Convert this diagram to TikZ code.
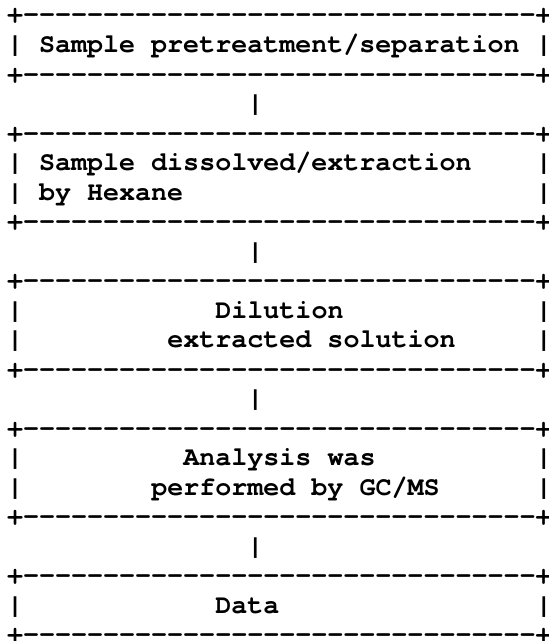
\documentclass[tikz,border=0pt]{standalone}
\usepackage{fontspec}
\setmonofont{TeX Gyre Cursor}
\tikzset{
  asc/.style={anchor=base west, inner sep=0pt, outer sep=0pt,
    font=\ttfamily\bfseries\fontsize{26.7}{30}\selectfont}
}
\newcommand\cw{16.03}
\newcommand\lx{7}
\newcommand\ly{618}
\newcommand\ls{29.52}
\newcommand\bordertext{+--------------------------------+}
\begin{document}
\begin{tikzpicture}[x=1pt,y=1pt]
\useasboundingbox (0,0) rectangle (549,641);
% borders
\foreach \i in {0,2,4,7,9,12,14,17,19,21}{
  \node[asc] (b\i) at (\lx, \ly-\ls*\i) {\bordertext};
}
% connectors between boxes
\foreach \i in {3,8,13,18}{
  \node[asc] (c\i) at (\lx+15*\cw, \ly-\ls*\i) {|};
}
% side bars
\foreach \i in {1,5,6,10,11,15,16,20}{
  \node[asc] (sl\i) at (\lx, \ly-\ls*\i) {|};
  \node[asc] (sr\i) at (\lx+33*\cw, \ly-\ls*\i) {|};
}
% texts
\node[asc] (t1)  at (\lx+2*\cw,  \ly-\ls*1)  {Sample pretreatment/separation};
\node[asc] (t5)  at (\lx+2*\cw,  \ly-\ls*5)  {Sample dissolved/extraction};
\node[asc] (t6)  at (\lx+2*\cw,  \ly-\ls*6)  {by Hexane};
\node[asc] (t10) at (\lx+13*\cw, \ly-\ls*10) {Dilution};
\node[asc] (t11) at (\lx+10*\cw, \ly-\ls*11) {extracted solution};
\node[asc] (t15) at (\lx+11*\cw, \ly-\ls*15) {Analysis was};
\node[asc] (t16) at (\lx+9*\cw,  \ly-\ls*16) {performed by GC/MS};
\node[asc] (t20) at (\lx+13*\cw, \ly-\ls*20) {Data};
\end{tikzpicture}
\end{document}
